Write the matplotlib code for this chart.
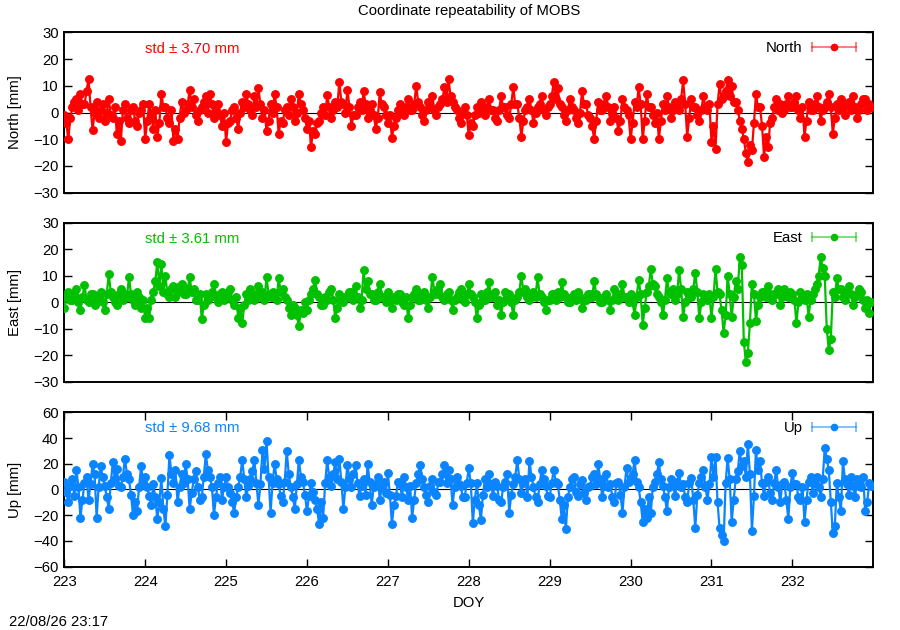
#!/usr/bin/env python3
"""Coordinate repeatability of MOBS - three stacked panels (North / East / Up)."""
import numpy as np
import matplotlib
matplotlib.use("Agg")
import matplotlib.pyplot as plt
from matplotlib.lines import Line2D
from matplotlib.legend_handler import HandlerBase

# values, 40 samples per day starting at DOY 223.00
north = [
    -1, -4, -10, -2, 2, 4, 5, 1, 7, 3, 3, 8, 12.5, 2, -6.5, 0, 4, -2, 1, 3, -3, 0, 5, -1, -2, 2, -8, -3, -10.5, 1, 3, -2, -4, 1, 2, -3, -5, 0, 1, 3,
    -10, -3, 3, -1, -6, 1, -9, -4, 7, 2, 2, -2, -4, 1, -10.5, -6, -10, -2, 4, 0, 1, 3, 8.5, 2, 5, -1, -3, 1, 2, 4, 6, 0, 7, 3, -2, 1, 3, -1, -5, 0,
    -11, -4, -3, 1, 2, -2, -6, 0, 4, 2, 7, 3, 1, -1, 6, 2, 9, 3, -2, 1, -7, -3, 3, 0, 7, 2, -8, -3, -4, 1, 2, -1, 5, 2, -3, 0, 7, 3, 1, -2,
    -6, -3, -13, -7, -8, -4, -3, 0, 2, -1, 6.5, 2, -2, 1, 4, 2, 11.5, 4, 3, 0, 8.5, 2, -5, -1, -1, 2, 4, 1, 8, 3, -2, 1, 3, -1, -6, -2, 7.5, 3, 2, -1,
    -4, -1, -9.5, -5, -2, 1, 3, 0, -1, 2, 5, 1, 1, 3, 10, 4, 2, -1, -3, 1, 4, 2, 6, 1, -1, 2, 3, 5, 9.5, 4, 12.5, 6, 4, 2, 1, -2, -4, 0, 2, -1,
    -8.5, -4, -5, -1, 2, 0, 4, 1, -1, 2, 5, 1, 1, -2, -3, 1, 6, 2, 2, -1, -2, 3, 9.5, 3, 3, -2, -9, -3, 1, 2, 5, 1, -4, 0, 2, 3, 6, 1, -1, 2,
    3, 6, 11.5, 5, 9, 3, 2, -1, -3, 1, 5, 2, 1, -2, -4, 0, 8, 3, 3, -1, -2, -5, -10, -3, 4, 1, 1, 3, 6, 2, -3, 0, 2, -2, -7, -3, 5, 2, 1, -1,
    -10, -4, 4, 2, 9.5, 3, -10, -3, 7, 2, 2, -1, -4, 0, -10, -3, 3, 1, 6, 2, -2, 1, 4, 2, 1, 5, 12, 3, -9, -2, 5, 2, 2, -1, -3, 1, 6, 2, 1, 3,
    -11, -5, -13.5, 3, 10.5, 5, 6, 8, 12, 6, 10, 4, 4, 1, -3, -6, -10, -15, -18.5, -12, -14, -4, 7, 2, 2, -5, -16.5, -9, -13, -4, -2, 2, 5, 1, 3, 0, 1, 3, 6, 2,
    2, 4, 6, 1, -2, 2, -9, -3, 4, 1, 1, 3, 6, 2, -3, 1, 2, 4, 7, 2, -8, -2, 3, 1, 5, 2, -1, 3, 4, 1, 6, 2, -2, 1, 3, 5, 5, 1, 3, 2,
]
east = [
    -2, 2, 4, 1, 1, 3, 5, 0, -3, 2, 6.5, 1, 0, 3, 3, -1, 1, 2, 4, 0, -3, 3, 10.5, 4, 2, 0, -1, 3, 5, 1, 3, 2, 9.5, 3, 1, -1, 4, 2, -2, 1,
    -6, -2, -6, 1, 4, 8, 15, 6, 14.5, 4, 10, 3, 2, 5, 6, 2, 4, 6, 7, 3, 3, 5, 9.5, 4, 5, 1, 1, 3, -6.5, -1, 3, 1, 2, 4, 7, 2, 0, 3, 4, 1,
    2, 4, 5, 1, -1, 2, -6, -2, -8, -1, 3, 1, 5, 2, 1, 3, 6, 2, 4, 1, 9.5, 3, 2, 4, 3, 1, 9, 4, 5, 2, 1, -2, -5, -1, -2, -5, -9, -3, -4, 0,
    -3, 1, 3, 5, 8.5, 3, 2, -1, -1, 2, 1, 4, 5, 1, -6, -2, 3, 1, 0, 2, 2, 4, 4, 1, 6, 2, -2, 1, 12, 5, 8, 3, 3, 1, 1, 4, 7, 2, 2, 0,
    4, 1, -2, 2, 1, 3, 3, 0, -1, 2, -6, -1, 2, 3, 5, 1, 1, 3, 4, 1, -2, 2, 9.5, 4, 3, 5, 7, 2, 1, 3, 4, 1, -3, 1, 2, 4, 5, 1, 0, 3,
    7, 3, 2, 0, -6, -1, 3, 1, 1, 4, 7.5, 2, 2, 4, -1, 1, -5, 0, 4, 2, 3, 0, -5, 1, 2, 4, 10, 4, 5, 2, 1, 3, 4, 2, 9.5, 3, 2, 0, -3, 1,
    1, 3, 3, 1, 4, 2, 7.5, 3, 2, 0, 0, 2, 3, 1, 4, 2, -2, 1, 1, 3, 3, 2, 8, 3, 2, 0, 0, 2, 3, 1, -3, 1, 5, 2, 1, 3, 7, 2, 2, 0,
    3, 0, -5, 2, 8.5, 3, -8.5, -2, 4, 6, 12.5, 7, 6, 3, 2, 0, -5, 1, 9, 4, 3, 5, 1, 3, 12, 5, -5.5, 0, 4, 2, 2, 5, 11, 4, -6, 0, 3, 2, 1, 3,
    -6, 2, 12.5, 4, 3, -3, -11.5, -5, 10, 3, -5.5, 2, 8, 5, 17, 14, -15, -22.5, -19, -8, 7, 3, -7, -1, 2, 4, 4, 2, 6, 3, 1, 3, 3, 5, -1, 2, 5, 3, 2, 4,
    3, 1, -8, 0, 4, 2, 1, 3, -5.5, 1, 3, 5, 7, 10, 17, 13, 10, -10, -18, -14, 4, 2, 9, 5, 5, 2, 1, 4, 6, 3, -1, 2, 3, 5, 4, 1, -2, 1, -4, 0,
]
up = [
    6, -2, -10, 3, 8, -5, 15, 2, -22, -8, 5, 10, -8, 4, 20, 12, -22, 2, 18, 10, 3, -6, -15, 5, 21, 8, 16, 3, 2, 10, 24, 12, 8, -4, -20, -10, -17, 2, 18, 6,
    10, 2, -5, -12, 4, -6, -23, -10, 9, -15, -28.5, -4, 27, 12, 5, 15, -10, 2, 12, 5, 20, 8, -15, -3, 8, 14, 2, -8, -6, 10, 27.5, 15, 10, 2, -20, -6, 5, 10, -8, 2,
    10, 2, -3, -10, -18, -6, 2, 10, 23, 8, -6, 3, 8, 14, 23, 5, -12, 4, 31, 16, 38, 10, -18, 5, 20, 8, 4, -5, -10, 6, 30, 12, 2, -6, -15, 4, 23, 10, 6, -4,
    -17, -5, 5, -2, -8, -15, -27, -10, -22, 5, 23, 10, 3, 12, 21, 8, 24, 6, -15, 2, 19, 8, 2, 12, 19, 5, -5, 3, 8, -4, 19.5, 6, -12, 2, 4, 10, -8, 2, 6, -3,
    13, -4, -27, -12, -5, 6, 4, -6, 10, 2, -8, 3, -22, -8, 5, 12, 19, 8, 2, -4, -10, 3, 8, -2, -4, 6, 6, 12, 19, 5, 15, 8, -12, 2, 10, 4, 3, -6, -6, 5,
    16.5, 5, -26, -8, 5, -12, -24, -4, 8, 2, 12, 4, -5, 6, 3, -8, -10, 2, 6, 12, -18, -4, 4, 10, 23, 8, -3, 5, 8, -6, 22.5, 10, 2, -6, -10, 4, 15, 8, 3, -5,
    -6, 5, 15, 6, 4, -8, -23, -12, -31, -6, 2, 8, 10, -2, -5, 4, 7, -3, -8, 2, 3, 10, 12, 4, 20, 8, -6, 3, 12, 2, 4, -6, -10, 5, 6, -4, -18, 2, 17, 6,
    8, 12, 23, 6, 2, -10, -25, -15, -22, -6, -18, 2, 6, 12, 21, 8, 3, -6, -17, 2, 8, 4, -5, 6, 13, 2, 4, -6, -10, 5, 9, -8, -30, -4, 5, 10, 15, 2, -8, 4,
    25, 10, 25, -10, -30, -35, -40, 5, 24.5, 8, -25, -8, 8, 14, 30, 18, 22, 10, 35.5, 12, -32, -5, 31, 15, 22, 5, -5, 6, 10, -3, -8, 5, 15, 2, -10, 4, 6, -8, -23, 2,
    13, 4, 4, -6, -8, 2, -25, -8, 6, 10, -3, 5, 10, 2, -6, 8, 32, 24, 15, -10, -34, -28, 5, -6, -17, 22, 8, 4, -4, 10, 3, -6, 8, 3, 2, 10, -17, -10, 5, 3,
]
per_day = 40

names = ["North", "East", "Up"]
stds = ["3.70", "3.61", "9.68"]
colors = ["#ff0000", "#00c000", "#0a84ff"]
ylims = [(-30, 30), (-30, 30), (-60, 60)]
ysteps = [10, 10, 20]
xticks = list(range(223, 233))
FS = 10.7


class ErrLineHandler(HandlerBase):
    # gnuplot-like key sample: capped horizontal bar with a dot in the middle
    def create_artists(self, legend, orig, xd, yd, w, h, fs, trans):
        c = orig.get_color()
        y = h / 2 - yd
        x0, x1 = -xd, -xd + w
        bar = Line2D([x0, x1], [y, y], color=c, alpha=0.55, lw=1.3, transform=trans)
        caps = Line2D([x0, x1], [y, y], ls="none", marker="|", ms=7, mew=1.3,
                      color=c, alpha=0.55, transform=trans)
        dot = Line2D([(x0 + x1) / 2], [y], ls="none", marker="o", ms=4.5,
                     color=c, transform=trans)
        return [bar, caps, dot]


plt.rcParams["font.family"] = ["Liberation Sans", "DejaVu Sans"]
plt.rcParams["font.size"] = FS

fig = plt.figure(figsize=(9, 6.3), dpi=100)
boxes = [(0.0714, 0.6941, 0.8989, 0.2546),
         (0.0714, 0.3941, 0.8989, 0.2524),
         (0.0714, 0.1005, 0.8989, 0.2451)]

for i, (vals, name) in enumerate(zip([north, east, up], names)):
    ax = fig.add_axes(boxes[i])
    c = colors[i]
    doy = 223 + np.arange(len(vals)) / per_day
    ax.axhline(0, color="black", lw=0.8, zorder=1)
    ax.plot(doy, vals, "-", color=c, lw=1.6, marker="o", ms=5.4,
            mfc=c, mec=c, zorder=3)
    ax.set_xlim(223, 233)
    ax.set_ylim(*ylims[i])
    ax.set_yticks(np.arange(ylims[i][0], ylims[i][1] + 1, ysteps[i]))
    for sp in ax.spines.values():
        sp.set_linewidth(1.4)
    ax.tick_params(axis="y", direction="in", left=True, right=True,
                   length=5.5, width=1, pad=4, labelsize=FS)
    if i < 2:
        ax.set_xticks([])
    else:
        ax.set_xticks(xticks)
        ax.tick_params(axis="x", direction="in", top=True, bottom=True,
                       length=5.5, width=1, pad=6, labelsize=FS)
        ax.set_xlabel("DOY", fontsize=FS, labelpad=5)

    ax.text(0.0998, 0.896, f"std \u00b1 {stds[i]} mm", color=c, fontsize=FS,
            transform=ax.transAxes, ha="left", va="center")
    proxy = Line2D([], [], color=c, label=name)
    ax.legend(handles=[proxy], handler_map={Line2D: ErrLineHandler()},
              loc="upper right", bbox_to_anchor=(0.979, 0.945), frameon=False,
              markerfirst=False, handlelength=3.0, borderpad=0,
              borderaxespad=0, handletextpad=0.6, fontsize=FS)
    b = boxes[i]
    fig.text(15 / 900, b[1] + b[3] / 2, f"{name} [mm]", rotation=90,
             ha="center", va="center", fontsize=FS)

fig.text(0.5208, 1 - 11 / 630, "Coordinate repeatability of MOBS",
         ha="center", va="center", fontsize=FS)
fig.text(9 / 900, 1 - 622 / 630, "22/08/26 23:17", ha="left", va="center",
         fontsize=FS)

fig.savefig("out.png", dpi=100)
